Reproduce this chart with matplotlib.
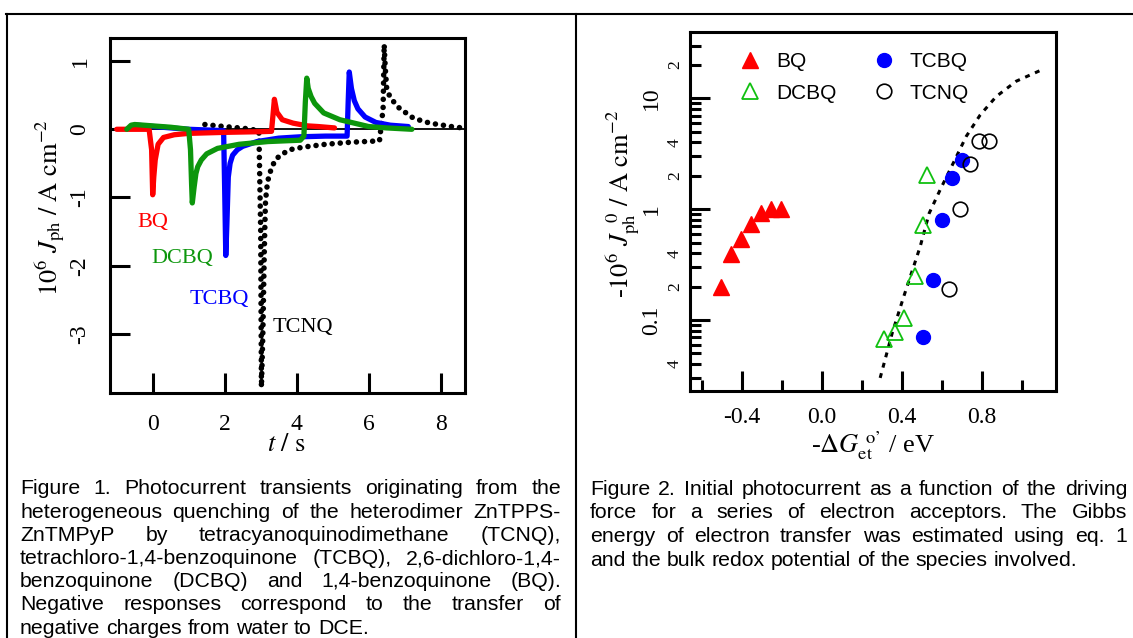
import numpy as np
import matplotlib.pyplot as plt
from matplotlib import rcParams
from matplotlib.lines import Line2D
from matplotlib.ticker import FixedLocator, FixedFormatter, FuncFormatter

# journal-ish look
rcParams['font.family'] = 'Liberation Serif'
rcParams['mathtext.fontset'] = 'stix'
rcParams['axes.unicode_minus'] = False
rcParams['xtick.direction'] = 'in'
rcParams['ytick.direction'] = 'in'
rcParams['axes.linewidth'] = 2.2

W, H = 1133, 638

# ---- Figure 1: photocurrent transients (t / s, 1e6 Jph / A cm-2) ----
bq_t = [-1.0, -0.5, -0.1, -0.03, 0.0, 0.03, 0.07, 0.15, 0.3, 0.6, 1.0, 2.0, 3.0,
        3.3, 3.34, 3.38, 3.45, 3.6, 3.9, 4.3, 4.6, 5.05]
bq_j = [0.0, 0.0, 0.0, -0.3, -0.96, -0.7, -0.45, -0.22, -0.12, -0.08, -0.06, -0.045,
        -0.035, -0.03, 0.2, 0.44, 0.25, 0.14, 0.09, 0.05, 0.04, 0.02]

dcbq_t = [-0.72, -0.6, -0.5, 0.0, 0.5, 1.0, 1.05, 1.08, 1.1, 1.15, 1.2, 1.25, 1.35,
          1.5, 1.8, 2.4, 3.2, 4.1, 4.2, 4.24, 4.28, 4.32, 4.4, 4.5, 4.75, 5.2, 5.6,
          6.0, 6.5, 7.2]
dcbq_j = [0.0, 0.06, 0.07, 0.05, 0.03, 0.0, -0.3, -0.8, -1.08, -0.85, -0.65, -0.55,
          -0.45, -0.36, -0.28, -0.22, -0.18, -0.16, -0.1, 0.4, 0.75, 0.6, 0.48, 0.38,
          0.24, 0.14, 0.09, 0.04, 0.02, 0.0]

tcbq_t = [-0.45, -0.2, 0.5, 1.0, 1.5, 1.97, 2.0, 2.03, 2.06, 2.1, 2.15, 2.22, 2.35,
          2.5, 2.9, 3.5, 4.1, 4.8, 5.4, 5.43, 5.46, 5.52, 5.6, 5.7, 5.9, 6.2, 6.6, 7.1]
tcbq_j = [0.06, 0.05, 0.02, 0.0, -0.01, -0.02, -0.9, -1.85, -1.4, -0.7, -0.5, -0.38,
          -0.3, -0.25, -0.18, -0.13, -0.11, -0.1, -0.1, 0.4, 0.84, 0.6, 0.42, 0.3,
          0.18, 0.1, 0.06, 0.04]

tcnq_t = [1.45, 1.8, 2.2, 2.6, 2.95, 3.0, 3.02, 3.06, 3.1, 3.13, 3.16, 3.2, 3.28,
          3.4, 3.55, 3.8, 4.2, 4.8, 5.5, 6.3, 6.4, 6.43, 6.46, 6.5, 6.55, 6.65, 6.85,
          7.25, 7.7, 8.3, 8.6]
tcnq_j = [0.07, 0.05, 0.03, 0.01, -0.02, -1.5, -3.78, -3.0, -1.8, -1.1, -0.9, -0.75,
          -0.6, -0.45, -0.38, -0.3, -0.26, -0.22, -0.19, -0.17, 0.3, 1.24, 0.9, 0.6,
          0.52, 0.43, 0.31, 0.16, 0.09, 0.04, 0.02]

# ---- Figure 2: initial photocurrent vs driving force ----
bq2_x = [-0.505, -0.455, -0.405, -0.355, -0.305, -0.255, -0.205]
bq2_j = [0.2, 0.39, 0.54, 0.73, 0.93, 1.0, 1.0]
dcbq2_x = [0.308, 0.363, 0.409, 0.463, 0.506, 0.525]
dcbq2_j = [0.067, 0.078, 0.105, 0.252, 0.72, 2.05]
tcbq2_x = [0.505, 0.552, 0.597, 0.647, 0.697]
tcbq2_j = [0.0706, 0.23, 0.80, 1.91, 2.76]
tcnq2_x = [0.636, 0.687, 0.737, 0.785, 0.833]
tcnq2_j = [0.19, 1.0, 2.56, 4.15, 4.1]
fit_x = [0.29, 0.35, 0.405, 0.49, 0.535, 0.59, 0.647, 0.72, 0.79, 0.87, 0.97, 1.10]
fit_j = [0.030, 0.076, 0.157, 0.46, 0.92, 1.5, 2.43, 4.54, 7.1, 10.4, 14.3, 18.2]

caption1 = ["Figure 1. Photocurrent transients originating from the",
            "heterogeneous quenching of the heterodimer ZnTPPS-",
            "ZnTMPyP by tetracyanoquinodimethane (TCNQ),",
            "tetrachloro-1,4-benzoquinone (TCBQ), 2,6-dichloro-1,4-",
            "benzoquinone (DCBQ) and 1,4-benzoquinone (BQ).",
            "Negative responses correspond to the transfer of",
            "negative charges from water to DCE."]
caption2 = ["Figure 2. Initial photocurrent as a function of the driving",
            "force for a series of electron acceptors. The Gibbs",
            "energy of electron transfer was estimated using eq. 1",
            "and the bulk redox potential of the species involved."]

RED, GREEN, BLUE = '#ff0000', '#0c960c', '#0000ff'
LGREEN = '#10c010'

fig = plt.figure(figsize=(W / 100, H / 100), dpi=100)


def px_axes(l, t, r, b):
    return fig.add_axes([l / W, 1 - b / H, (r - l) / W, (b - t) / H])


# left panel
ax1 = px_axes(110, 38.3, 465, 393.3)
ax1.axhline(0, color='k', lw=1.3, zorder=1)
ax1.plot(tcnq_t, tcnq_j, color='k', lw=4.0, linestyle=(0, (0.01, 1.45)),
         dash_capstyle='round', zorder=2)
ax1.plot(tcbq_t, tcbq_j, color=BLUE, lw=3.8, solid_capstyle='round',
         solid_joinstyle='round', zorder=3)
ax1.plot(bq_t, bq_j, color=RED, lw=3.8, solid_capstyle='round',
         solid_joinstyle='round', zorder=4)
ax1.plot(dcbq_t, dcbq_j, color=GREEN, lw=3.8, solid_capstyle='round',
         solid_joinstyle='round', zorder=5)
ax1.set_xlim(-1.186, 8.675)
ax1.set_ylim(-3.871, 1.334)
ax1.set_xticks([0, 2, 4, 6, 8])
ax1.set_yticks([-3, -2, -1, 0, 1])
ax1.tick_params(length=14.4, width=2.2, labelsize=17, top=False, right=False)
ax1.tick_params(axis='x', pad=15)
ax1.tick_params(axis='y', pad=14, labelrotation=90)
for lab in ax1.get_yticklabels():
    lab.set_va('center')

ax1.text(0.0, -1.36, 'BQ', color=RED, fontsize=16, ha='center', va='center')
ax1.text(0.82, -1.89, 'DCBQ', color=GREEN, fontsize=16, ha='center', va='center')
ax1.text(1.84, -2.50, 'TCBQ', color=BLUE, fontsize=16, ha='center', va='center')
ax1.text(4.17, -2.91, 'TCNQ', color='k', fontsize=16, ha='center', va='center')

ax1.text(-0.169, 0.522, r'$10^{6}\ J_{\mathrm{ph}}\ /\ \mathrm{A\ cm}^{-2}$',
         transform=ax1.transAxes, rotation=90, ha='center', va='center', fontsize=19)
ax1.text(0.496, -0.147, r'$t\ /\ \mathrm{s}$', transform=ax1.transAxes,
         ha='center', va='center', fontsize=19)

# right panel
ax2 = px_axes(690, 32.3, 1055.7, 390.7)
ax2.set_yscale('log')
ax2.plot(fit_x, fit_j, color='k', lw=2.2, linestyle=(0, (1.6, 1.9)), zorder=2)
h1, = ax2.plot(bq2_x, bq2_j, '^', color=RED, ms=11, ls='none', label='BQ', zorder=3)
h2, = ax2.plot(dcbq2_x, dcbq2_j, '^', mfc='none', mec=LGREEN, mew=1.3, ms=11,
               ls='none', label='DCBQ', zorder=3)
h3, = ax2.plot(tcbq2_x, tcbq2_j, 'o', color=BLUE, ms=10, ls='none', label='TCBQ',
               zorder=3)
h4, = ax2.plot(tcnq2_x, tcnq2_j, 'o', mfc='none', mec='k', mew=1.2, ms=10.5,
               ls='none', label='TCNQ', zorder=3)
ax2.legend(handles=[h1, h2, h3, h4], ncol=2, loc='upper left',
           bbox_to_anchor=(0.1356, 0.945), frameon=False,
           prop={'family': 'Liberation Sans', 'size': 15}, handlelength=1.0,
           handletextpad=0.75, columnspacing=1.76, labelspacing=0.6, borderpad=0,
           borderaxespad=0, numpoints=1)

ax2.set_xlim(-0.66, 1.167)
ax2.set_ylim(0.023, 39.5)
ax2.xaxis.set_major_locator(FixedLocator([-0.4, 0.0, 0.4, 0.8]))
ax2.xaxis.set_major_formatter(FixedFormatter(['-0.4', '0.0', '0.4', '0.8']))
ax2.xaxis.set_minor_locator(FixedLocator([-0.6, -0.2, 0.2, 0.6, 1.0]))
ax2.yaxis.set_major_locator(FixedLocator([0.1, 1, 10]))
ax2.yaxis.set_major_formatter(FixedFormatter(['0.1', '1', '10']))
minors = [m * d for d in (0.01, 0.1, 1, 10) for m in range(2, 10)]
ax2.yaxis.set_minor_locator(FixedLocator(minors))


def minor_fmt(v, pos):
    m = int(round(v / 10 ** np.floor(np.log10(v) + 1e-9)))
    return str(m) if m in (2, 4) else ''


ax2.yaxis.set_minor_formatter(FuncFormatter(minor_fmt))
ax2.tick_params(which='both', width=2.2, top=False, right=False)
ax2.tick_params(which='major', length=14.4, labelsize=17)
ax2.tick_params(which='minor', length=8)
ax2.tick_params(axis='x', which='major', pad=12)
ax2.tick_params(axis='y', which='major', pad=20, labelrotation=90)
ax2.tick_params(axis='y', which='minor', pad=5, labelsize=12.5, labelrotation=90)
for lab in ax2.get_yticklabels() + ax2.get_yticklabels(minor=True):
    lab.set_va('center')

ax2.text(-0.183, 0.521,
         r'-$10^{6}\ J_{\mathrm{ph}}^{\ \ 0}\ /\ \mathrm{A\ cm}^{-2}$',
         transform=ax2.transAxes, rotation=90, ha='center', va='center', fontsize=19)
ax2.text(0.5, -0.154, "-$\\Delta G_{\\mathrm{et}}^{\\ \\mathrm{o\u2019}}$ / eV",
         transform=ax2.transAxes, ha='center', va='center', fontsize=19)

# table frame round the two figures
for xs, ys in [([6, W], [13.5, 13.5]), ([6.5, 6.5], [13.5, H]), ([576, 576], [13.5, H])]:
    fig.add_artist(Line2D([x / W for x in xs], [1 - y / H for y in ys],
                          color='k', lw=1.5, transform=fig.transFigure))


# justified captions, word by word
def paragraph(lines, x0, x1, y0, dy, size=15.3):
    r = fig.canvas.get_renderer()
    probe = fig.text(0, 0, 'x x', fontsize=size, family='Liberation Sans')
    probe2 = fig.text(0, 0, 'xx', fontsize=size, family='Liberation Sans')
    space = probe.get_window_extent(r).width - probe2.get_window_extent(r).width
    probe.remove()
    probe2.remove()
    for i, line in enumerate(lines):
        words = line.split()
        y = 1 - (y0 + i * dy) / H
        arts = [fig.text(0, y, w, fontsize=size, family='Liberation Sans',
                         va='baseline') for w in words]
        widths = [a.get_window_extent(r).width for a in arts]
        if i == len(lines) - 1 or len(words) < 2:
            gap = space
        else:
            gap = max((x1 - x0 - sum(widths)) / (len(words) - 1), 0.6 * space)
        x = x0
        for a, w in zip(arts, widths):
            a.set_x(x / W)
            x += w + gap


paragraph(caption1, 20, 561, 494.5, 23.2)
paragraph(caption2, 590, 1127, 495, 23.5)

fig.savefig('out.png', dpi=100)
